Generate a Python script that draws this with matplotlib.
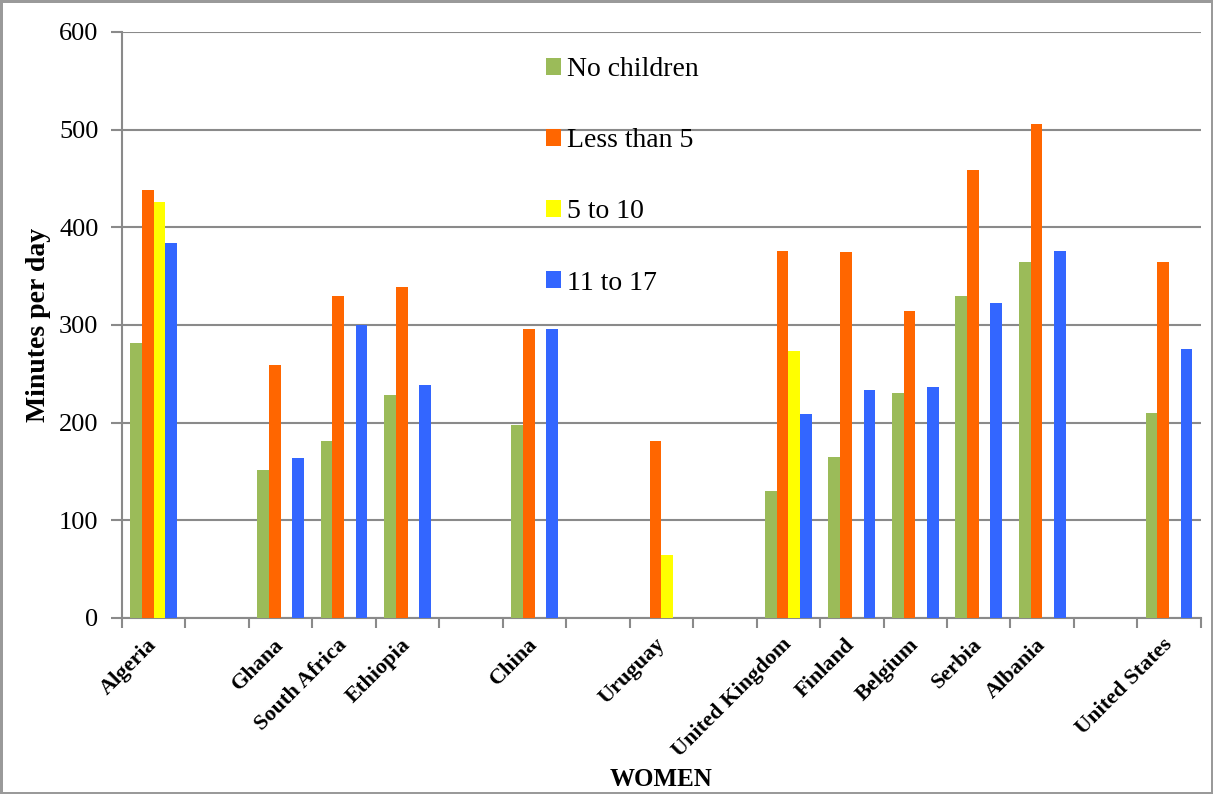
import matplotlib
matplotlib.use("Agg")
import matplotlib.pyplot as plt
import numpy as np

# categorías (las vacías son huecos en el eje)
paises = ["Algeria", "", "Ghana", "South Africa", "Ethiopia", "", "China", "",
          "Uruguay", "", "United Kingdom", "Finland", "Belgium", "Serbia",
          "Albania", "", "United States"]

series = ["No children", "Less than 5", "5 to 10", "11 to 17"]
nan = np.nan
sin_hijos = [282, nan, 152, 181, 228, nan, 198, nan, nan, nan, 130, 165, 230, 330, 365, nan, 210]
menos_5 = [438, nan, 259, 330, 339, nan, 296, nan, 181, nan, 376, 375, 314, 459, 506, nan, 365]
de_5_a_10 = [426, nan, nan, nan, nan, nan, nan, nan, 64, nan, 273, nan, nan, nan, nan, nan, nan]
de_11_a_17 = [384, nan, 164, 300, 239, nan, 296, nan, nan, nan, 209, 233, 237, 322, 376, nan, 275]

colores = ["#9BBB59", "#FF6600", "#FFFF00", "#3366FF"]

plt.rcParams["font.family"] = ["Liberation Serif", "DejaVu Serif"]

fig = plt.figure(figsize=(12.13, 7.94), dpi=100)
fig.patch.set_edgecolor("#9a9a9a")
fig.patch.set_linewidth(2.5)
ax = fig.add_axes([0.1006, 0.2217, 0.8894, 0.738])

x = np.arange(len(paises))
ancho = 0.184
for i, (nombre, valores, color) in enumerate(zip(series, [sin_hijos, menos_5, de_5_a_10, de_11_a_17], colores)):
    ax.bar(x + (i - 1.5) * ancho, valores, ancho, color=color, label=nombre, zorder=3)

ax.set_xlim(-0.5, len(paises) - 0.5)
ax.set_ylim(0, 600)
ax.set_yticks(range(0, 601, 100))
ax.grid(axis="y", color="#8a8a8a", linewidth=1.5, zorder=0)

ax.set_xticks(x)
ax.set_xticklabels(paises, rotation=45, ha="right", va="center", rotation_mode="anchor",
                   fontsize=16, fontweight="bold")
ax.set_xticks(np.arange(-0.5, len(paises)), minor=True)
ax.tick_params(axis="x", which="major", length=0, pad=17)
ax.tick_params(axis="x", which="minor", length=7, color="#8a8a8a", width=1.5)
ax.tick_params(axis="y", length=8, color="#8a8a8a", width=1.5, labelsize=19, pad=9)

for lado in ["top", "right"]:
    ax.spines[lado].set_visible(False)
for lado in ["left", "bottom"]:
    ax.spines[lado].set_color("#8a8a8a")
    ax.spines[lado].set_linewidth(1.5)

ax.set_ylabel("Minutes per day", fontsize=20, fontweight="bold", labelpad=6)
fig.text(0.545, 0.01, "WOMEN", ha="center", fontsize=18, fontweight="bold")

ax.legend(loc="upper left", bbox_to_anchor=(0.393, 0.957), frameon=False, fontsize=20,
          borderaxespad=0, borderpad=0, handlelength=0.55, handleheight=0.55,
          handletextpad=0.2, labelspacing=1.66)

fig.savefig("out.png", dpi=100)
